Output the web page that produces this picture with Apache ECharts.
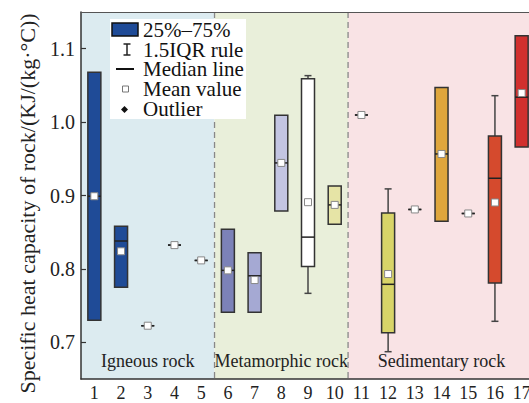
<!DOCTYPE html>
<html><head><meta charset="utf-8">
<script src="https://cdn.jsdelivr.net/npm/echarts@6/dist/echarts.min.js"></script>
<style>html,body{margin:0;padding:0;overflow:hidden;background:#fff}#c{width:560px;height:403px}</style>
</head><body><div id="c"></div>
<script>
const categories = ['1','2','3','4','5','6','7','8','9','10','11','12','13','14','15','16','17'];
const minVals = [0.730,0.775,0.7226,0.8324,0.8116,0.741,0.741,0.879,0.7667,0.861,1.0097,0.6872,0.881,0.865,0.8755,0.7286,0.966];
const q1Vals  = [0.730,0.775,0.7226,0.8324,0.8116,0.741,0.741,0.879,0.8034,0.861,1.0097,0.713,0.881,0.865,0.8755,0.7807,0.966];
const medVals = [0.899,0.838,0.7226,0.8324,0.8116,0.798,0.7906,0.9444,0.8433,0.8872,1.0097,0.779,0.881,0.9566,0.8755,0.9235,1.034];
const q3Vals  = [1.068,0.858,0.7226,0.8324,0.8116,0.854,0.822,1.0093,1.0592,0.913,1.0097,0.876,0.881,1.047,0.8755,0.981,1.1177];
const maxVals = [1.068,0.858,0.7226,0.8324,0.8116,0.854,0.822,1.0093,1.0633,0.913,1.0097,0.909,0.881,1.047,0.8755,1.036,1.1177];
const meanVals= [0.899,0.824,0.7226,0.8324,0.8116,0.798,0.7848,0.9444,0.8909,0.8872,1.0097,0.793,0.881,0.9566,0.8755,0.8905,1.0396];
const groupNames = ['Igneous rock','Metamorphic rock','Sedimentary rock'];
const groupStart = [0,5,10];
const groupEnd = [4,9,16];
const yTicks = [0.7,0.8,0.9,1.0,1.1];
const legendLabels = ['25%–75%','1.5IQR rule','Median line','Mean value','Outlier'];
const yTitle = 'Specific heat capacity of rock/(KJ/(kg·°C))';

// styles
const boxColors = ['#1f4b97','#1f4b97','#dbe6ee','#dbe6ee','#dbe6ee','#7c82b8','#a5a9d3','#c3c5e2','#ffffff','#e6e4a6','#f5e0e3','#d8d468','#f5e0e3','#dfa63d','#f5e0e3','#d54a2d','#d1302e'];
const groupBg = ['#dcebf0','#e9efda','#f9e3e5'];
const FONT = 'Liberation Serif';

const chart = echarts.init(document.getElementById('c'), null, {renderer:'svg'});

const boxData = categories.map((c,i)=>[i, minVals[i], q1Vals[i], medVals[i], q3Vals[i], maxVals[i]]);
const meanData = categories.map((c,i)=>[i, meanVals[i]]);
const groupData = groupNames.map((n,i)=>[groupStart[i], groupEnd[i], i]);

function legendText(i, y){
  return {type:'text', x:143, y:y, z:101, style:{text:legendLabels[i], verticalAlign:'middle', fontFamily:FONT, fontSize:21, lineHeight:18, fill:'#111'}};
}

const option = {
  animation:false,
  textStyle:{fontFamily:FONT},
  grid:{left:81, top:12, width:454, height:367},
  xAxis:[{
    type:'category', data:categories, boundaryGap:true, z:10,
    axisLine:{lineStyle:{color:'#333', width:1.5}},
    axisTick:{inside:true, length:5, alignWithLabel:true, lineStyle:{color:'#333', width:1.2}},
    axisLabel:{fontFamily:FONT, fontSize:18, color:'#222', margin:5, interval:0},
    splitLine:{show:false}
  },{
    type:'category', data:categories, position:'top', z:10,
    axisLine:{lineStyle:{color:'#555', width:1}},
    axisTick:{show:false}, axisLabel:{show:false}
  }],
  yAxis:{
    type:'value', min:0.65, max:1.15, z:10,
    name:yTitle, nameLocation:'middle', nameGap:43, nameRotate:90,
    nameTextStyle:{fontFamily:FONT, fontSize:22, color:'#222', padding:[0,16,0,0]},
    axisLine:{show:true, lineStyle:{color:'#333', width:1.5}},
    axisTick:{show:true, inside:true, length:5, customValues:yTicks, lineStyle:{color:'#333', width:1.2}},
    axisLabel:{customValues:yTicks, fontFamily:FONT, fontSize:20, color:'#222', margin:6, formatter:v=>v.toFixed(1)},
    splitLine:{show:false}
  },
  series:[
    {
      type:'custom', z:1, silent:true, clip:false,
      data:groupData,
      encode:{x:[0,1]},
      renderItem:function(params, api){
        const cs = params.coordSys;
        const band = api.size([1,0])[0];
        const s = api.value(0), e = api.value(1), g = api.value(2);
        const x0 = api.coord([s, 0.9])[0] - band/2;
        const x1 = api.coord([e, 0.9])[0] + band/2;
        const children = [{
          type:'rect', shape:{x:x0, y:cs.y, width:x1-x0, height:cs.height},
          style:{fill:groupBg[g]}
        },{
          type:'text', x:(x0+x1)/2, y:cs.y+cs.height-18,
          style:{text:groupNames[g], align:'center', verticalAlign:'middle', fontFamily:FONT, fontSize:18, fill:'#222'}
        }];
        if (g>0) children.push({
          type:'line', shape:{x1:x0, y1:cs.y, x2:x0, y2:cs.y+cs.height},
          style:{stroke:'#888', lineWidth:1.3, lineDash:[6,4]}
        });
        return {type:'group', children};
      }
    },
    {
      type:'custom', z:3, silent:true,
      data:boxData,
      encode:{x:0, y:[1,2,3,4,5]},
      renderItem:function(params, api){
        const i = api.value(0);
        const bw = 13, cw = 7;
        const xc = api.coord([i, api.value(3)])[0];
        const yMin = api.coord([i, api.value(1)])[1];
        const yQ1 = api.coord([i, api.value(2)])[1];
        const yMed = api.coord([i, api.value(3)])[1];
        const yQ3 = api.coord([i, api.value(4)])[1];
        const yMax = api.coord([i, api.value(5)])[1];
        const ws = {stroke:'#444', lineWidth:1.5};
        const ch = [];
        if (yMax < yQ3 - 0.5) {
          ch.push({type:'line', shape:{x1:xc,y1:yQ3,x2:xc,y2:yMax}, style:ws});
          ch.push({type:'line', shape:{x1:xc-cw/2,y1:yMax,x2:xc+cw/2,y2:yMax}, style:ws});
        }
        if (yMin > yQ1 + 0.5) {
          ch.push({type:'line', shape:{x1:xc,y1:yQ1,x2:xc,y2:yMin}, style:ws});
          ch.push({type:'line', shape:{x1:xc-cw/2,y1:yMin,x2:xc+cw/2,y2:yMin}, style:ws});
        }
        ch.push({type:'rect', shape:{x:xc-bw/2, y:yQ3, width:bw, height:yQ1-yQ3},
          style:{fill:boxColors[i], stroke:'#333', lineWidth:1.5}});
        ch.push({type:'line', shape:{x1:xc-bw/2,y1:yMed,x2:xc+bw/2,y2:yMed}, style:{stroke:'#222', lineWidth:1.5}});
        return {type:'group', children:ch};
      }
    },
    {
      type:'scatter', z:4, silent:true,
      data:meanData,
      symbol:'rect', symbolSize:7,
      itemStyle:{color:'#fff', borderColor:'#888', borderWidth:1, opacity:1}
    }
  ],
  graphic:[
    {type:'rect', z:100, shape:{x:110,y:19,width:136,height:100}, style:{fill:'#fff'}},
    {type:'rect', z:101, shape:{x:112,y:23,width:26,height:13}, style:{fill:'#1f4b97', stroke:'#111', lineWidth:1.5}},
    {type:'line', z:101, shape:{x1:127,y1:44,x2:127,y2:55}, style:{stroke:'#222', lineWidth:1.5}},
    {type:'line', z:101, shape:{x1:123.5,y1:44,x2:130.5,y2:44}, style:{stroke:'#222', lineWidth:1.5}},
    {type:'line', z:101, shape:{x1:123.5,y1:55,x2:130.5,y2:55}, style:{stroke:'#222', lineWidth:1.5}},
    {type:'line', z:101, shape:{x1:116,y1:69,x2:134,y2:69}, style:{stroke:'#111', lineWidth:2}},
    {type:'rect', z:101, shape:{x:122.5,y:86,width:6,height:6}, style:{fill:'#fff', stroke:'#777', lineWidth:1}},
    {type:'polygon', z:101, shape:{points:[[124.5,106],[128,109.5],[124.5,113],[121,109.5]]}, style:{fill:'#111'}},
    legendText(0, 30),
    legendText(1, 49.5),
    legendText(2, 69),
    legendText(3, 89),
    legendText(4, 108.5)
  ]
};
chart.setOption(option);
</script>
</body></html>
